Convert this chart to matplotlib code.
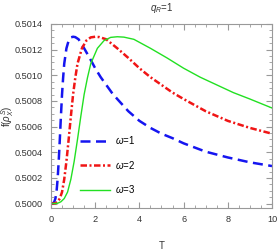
import numpy as np
import matplotlib.pyplot as plt
from matplotlib.ticker import FormatStrFormatter, MultipleLocator

plt.rcParams['font.family'] = ['Liberation Sans', 'DejaVu Sans']
plt.rcParams['mathtext.fontset'] = 'custom'
plt.rcParams['mathtext.it'] = 'Liberation Sans:italic'
plt.rcParams['mathtext.rm'] = 'Liberation Sans'

# valores
T_w1 = [0, 0.1, 0.15, 0.2, 0.25, 0.3, 0.35, 0.4, 0.45, 0.5, 0.55, 0.6, 0.7, 0.8, 0.9,
        1.0, 1.1, 1.25, 1.5, 1.75, 2.0, 2.25, 2.5, 2.75, 3.0, 3.5, 4.0, 4.5, 5.0,
        5.5, 6.0, 7.0, 8.0, 9.0, 10.0]
f_w1 = [0.500000, 0.500003, 0.500015, 0.500040, 0.500090, 0.500190, 0.500330,
        0.500500, 0.500680, 0.500850, 0.500980, 0.501090, 0.501210, 0.501270,
        0.501295, 0.501300, 0.501297, 0.501280, 0.501210, 0.501135, 0.501055,
        0.500985, 0.500925, 0.500865, 0.500815, 0.500720, 0.500645, 0.500590,
        0.500545, 0.500510, 0.500470, 0.500405, 0.500360, 0.500322, 0.500293]

T_w2 = [0, 0.2, 0.3, 0.4, 0.5, 0.6, 0.7, 0.8, 0.9, 1.0, 1.1, 1.2, 1.4, 1.6, 1.8,
        2.0, 2.2, 2.5, 3.0, 3.5, 4.0, 4.5, 5.0, 5.5, 6.0, 7.0, 8.0, 9.0, 10.0]
f_w2 = [0.500000, 0.500003, 0.500015, 0.500040, 0.500090, 0.500190, 0.500330,
        0.500500, 0.500680, 0.500850, 0.500980, 0.501090, 0.501210, 0.501270,
        0.501295, 0.501300, 0.501297, 0.501280, 0.501210, 0.501135, 0.501055,
        0.500985, 0.500925, 0.500865, 0.500815, 0.500720, 0.500645, 0.500590,
        0.500545]

T_w3 = [0, 0.3, 0.45, 0.6, 0.75, 0.9, 1.05, 1.2, 1.35, 1.5, 1.65, 1.8, 2.1, 2.4,
        2.7, 3.0, 3.3, 3.75, 4.5, 5.25, 6.0, 6.75, 7.5, 8.25, 9.0, 10.0]
f_w3 = [0.500000, 0.500003, 0.500015, 0.500040, 0.500090, 0.500190, 0.500330,
        0.500500, 0.500680, 0.500850, 0.500980, 0.501090, 0.501210, 0.501270,
        0.501295, 0.501300, 0.501297, 0.501280, 0.501210, 0.501135, 0.501055,
        0.500985, 0.500925, 0.500865, 0.500815, 0.500745]

fig = plt.figure(figsize=(2.77, 2.49), dpi=100)
ax = fig.add_axes([0.184, 0.165, 0.798, 0.739])

ax.plot(T_w1, f_w1, color='#1515f0', lw=1.8, dashes=(4, 2.2), label=r'$\omega$=1')
ax.plot(T_w2, f_w2, color='#f01515', lw=1.8, dashes=(2.6, 1, 0.8, 1), label=r'$\omega$=2')
ax.plot(T_w3, f_w3, color='#22e022', lw=1.0, label=r'$\omega$=3')

ax.set_xlim(0, 10)
ax.set_ylim(0.499967, 0.5014)
ax.xaxis.set_major_locator(MultipleLocator(2))
ax.xaxis.set_minor_locator(MultipleLocator(0.5))
ax.yaxis.set_major_locator(MultipleLocator(0.0002))
ax.yaxis.set_minor_locator(MultipleLocator(0.00005))
ax.yaxis.set_major_formatter(FormatStrFormatter('%.4f'))
ax.tick_params(which='both', direction='in', top=True, right=True,
               labelsize=6.6, labelcolor='#333333', color='#999999')
ax.tick_params(which='major', length=4)
ax.tick_params(which='minor', length=2)
ax.tick_params(axis='y', pad=6)
ax.tick_params(axis='x', pad=5)
for s in ax.spines.values():
    s.set_color('#999999')

ax.set_xlabel('T', fontsize=7, color='#333333', labelpad=12)
ax.set_ylabel(r'f($\rho_X^S$)', fontsize=7, color='#333333')
ax.yaxis.set_label_coords(-0.158, 0.5)
ax.set_title(r'$q_R$=1', fontsize=7, color='#333333', pad=9)

ax.legend(loc='lower left', bbox_to_anchor=(0.09, 0.02), frameon=False,
          fontsize=7, handlelength=3.1, labelspacing=1.3, handletextpad=0.5)

plt.savefig('out.png', dpi=100)
